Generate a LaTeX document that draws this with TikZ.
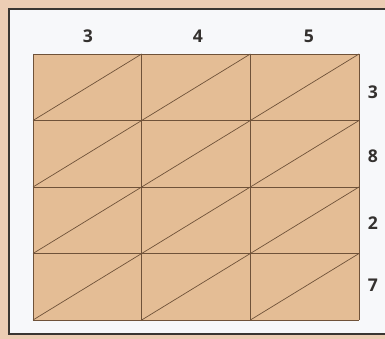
\documentclass[tikz,border=0pt]{standalone}
\usepackage{fontspec}
\setsansfont{Open Sans}
\usepackage{tikz}
\usetikzlibrary{positioning}
\definecolor{LatPeach}{HTML}{ECCDB4}
\definecolor{LatTan}{HTML}{E4BD95}
\definecolor{LatLine}{HTML}{6F5239}
\definecolor{LatFrame}{HTML}{3A3632}
\definecolor{LatInk}{HTML}{34312F}
\definecolor{LatPaper}{HTML}{F7F8FA}
\tikzset{
  figdigit/.style={font=\sffamily\bfseries\fontsize{15}{17}\selectfont, text=LatInk, inner sep=0pt},
  gridline/.style={draw=LatLine, line width=0.6pt},
  framebox/.style={draw=LatFrame, line width=2pt, fill=LatPaper},
  cellfill/.style={fill=LatTan}
}
\begin{document}
\begin{tikzpicture}[x=0.03cm, y=-0.03cm]
\useasboundingbox[fill=LatPeach] (0,0) rectangle (385,339);
\path[framebox] (9,9) rectangle (400,334);
% lattice
\path[cellfill] (33,54) rectangle (359,320);
\foreach \i in {0,...,3} \draw[gridline] (33+108.67*\i,54) -- (33+108.67*\i,320);
\foreach \j in {0,...,4} \draw[gridline] (33,54+66.5*\j) -- (359,54+66.5*\j);
\foreach \i in {0,1,2}
  \foreach \j in {1,...,4}
    \draw[gridline] (33+108.67*\i,54+66.5*\j) -- (33+108.67*\i+108.67,54+66.5*\j-66.5);
% factors
\node[figdigit] (c1) at (88,36) {3};
\node[figdigit] (c2) at (198,36) {4};
\node[figdigit] (c3) at (309,36) {5};
\node[figdigit] (r1) at (373,92) {3};
\node[figdigit] (r2) at (373,156) {8};
\node[figdigit] (r3) at (373,223) {2};
\node[figdigit] (r4) at (373,285) {7};
\end{tikzpicture}
\end{document}
